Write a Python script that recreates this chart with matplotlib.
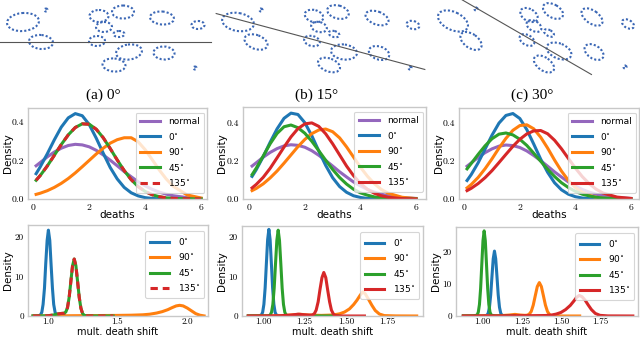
import matplotlib
matplotlib.use("Agg")
import matplotlib.pyplot as plt
from matplotlib.patches import Ellipse
import numpy as np

W, H = 640, 338

# ---------------- top row: ellipse layouts ----------------
ellipse_cx = [23, 46, 41, 99, 123, 104, 119, 97, 162, 198, 129, 164, 114, 195]
ellipse_cy = [22, 10, 42, 16, 12, 27, 34, 41, 18, 25, 52, 53, 65, 68]
ellipse_w = [32, 3, 24, 19, 22, 16, 11, 16, 24, 13, 26, 21, 23, 3]
ellipse_h = [18, 3, 14, 12, 13, 10, 6, 10, 13, 8, 15, 13, 13, 3]
ellipse_tilt = [-5, 0, 5, 0, 0, 0, 0, 0, 5, 0, -8, 3, 5, 0]
panel_dx = [0, 215, 430]
panel_dy = [0, 0, -1]
panel_angle = [0, 15, 30]
line_cx = [105, 320.5, 526.5]
line_cy = [42, 41.5, 37]
line_half = [106, 108, 75]
captions = ["(a) 0°", "(b) 15°", "(c) 30°"]
caption_x = [103, 317, 532]

# ---------------- middle row: density of deaths ----------------
deaths_x = [0.1, 0.25, 0.5, 0.75, 1.0, 1.25, 1.5, 1.75, 2.0, 2.25, 2.5, 2.75,
            3.0, 3.25, 3.5, 3.75, 4.0, 4.25, 4.5, 4.75, 5.0, 5.5, 6.0]
normal_density = [0.172, 0.189, 0.218, 0.243, 0.263, 0.277, 0.283, 0.280, 0.270, 0.252, 0.228, 0.201,
                  0.172, 0.142, 0.115, 0.089, 0.068, 0.050, 0.036, 0.025, 0.017, 0.007, 0.003]
deaths_a_0 = [0.131, 0.167, 0.234, 0.306, 0.372, 0.420, 0.442, 0.431, 0.385, 0.315, 0.237, 0.163,
              0.104, 0.060, 0.032, 0.016, 0.007, 0.003, 0.001, 0.0, 0.0, 0.0, 0.0]
deaths_a_90 = [0.024, 0.030, 0.043, 0.060, 0.081, 0.106, 0.135, 0.167, 0.200, 0.233, 0.263, 0.289,
               0.307, 0.317, 0.317, 0.296, 0.255, 0.204, 0.151, 0.104, 0.066, 0.021, 0.005]
deaths_a_45 = [0.097, 0.122, 0.171, 0.226, 0.282, 0.332, 0.370, 0.389, 0.387, 0.361, 0.317, 0.261,
               0.202, 0.147, 0.100, 0.064, 0.039, 0.022, 0.012, 0.006, 0.003, 0.001, 0.0]
deaths_a_135 = [0.097, 0.122, 0.171, 0.226, 0.282, 0.332, 0.370, 0.389, 0.387, 0.361, 0.317, 0.261,
                0.202, 0.147, 0.100, 0.064, 0.039, 0.022, 0.012, 0.006, 0.003, 0.001, 0.0]
deaths_b_0 = [0.118, 0.153, 0.221, 0.296, 0.366, 0.421, 0.448, 0.441, 0.398, 0.330, 0.251, 0.175,
              0.111, 0.065, 0.035, 0.017, 0.008, 0.003, 0.001, 0.0, 0.0, 0.0, 0.0]
deaths_b_90 = [0.044, 0.055, 0.079, 0.110, 0.146, 0.187, 0.230, 0.273, 0.311, 0.341, 0.360, 0.365,
               0.351, 0.319, 0.272, 0.219, 0.166, 0.119, 0.080, 0.050, 0.030, 0.009, 0.002]
deaths_b_45 = [0.127, 0.161, 0.224, 0.288, 0.342, 0.377, 0.386, 0.372, 0.343, 0.301, 0.252, 0.202,
               0.154, 0.112, 0.078, 0.051, 0.032, 0.020, 0.011, 0.006, 0.003, 0.001, 0.0]
deaths_b_135 = [0.058, 0.076, 0.113, 0.160, 0.215, 0.271, 0.324, 0.367, 0.392, 0.397, 0.379, 0.340,
                0.288, 0.230, 0.172, 0.122, 0.081, 0.051, 0.030, 0.017, 0.009, 0.002, 0.0]
deaths_c_0 = [0.097, 0.128, 0.190, 0.262, 0.335, 0.398, 0.438, 0.448, 0.422, 0.364, 0.288, 0.209,
              0.140, 0.085, 0.048, 0.025, 0.012, 0.005, 0.002, 0.001, 0.0, 0.0, 0.0]
deaths_c_90 = [0.058, 0.076, 0.113, 0.159, 0.211, 0.267, 0.318, 0.360, 0.385, 0.389, 0.368, 0.324,
               0.267, 0.204, 0.146, 0.097, 0.060, 0.035, 0.019, 0.009, 0.004, 0.001, 0.0]
deaths_c_45 = [0.158, 0.186, 0.234, 0.279, 0.316, 0.340, 0.346, 0.336, 0.313, 0.281, 0.240, 0.198,
               0.156, 0.118, 0.085, 0.060, 0.040, 0.025, 0.016, 0.009, 0.005, 0.001, 0.0]
deaths_c_135 = [0.044, 0.056, 0.081, 0.112, 0.149, 0.191, 0.234, 0.276, 0.313, 0.341, 0.357, 0.359,
                0.342, 0.308, 0.263, 0.212, 0.162, 0.117, 0.080, 0.051, 0.031, 0.010, 0.003]

# ---------------- bottom row: density of mult. death shift ----------------
shift_a_0_x = [0.895, 0.93, 0.948, 0.958, 0.967, 0.977, 0.986, 0.996, 1.005, 1.015, 1.024, 1.034,
               1.043, 1.053, 1.062, 1.08, 1.12]
shift_a_0_y = [0, 0.01, 0.24, 0.95, 2.93, 7.05, 13.2, 19.1, 21.7, 19.1, 13.2, 7.05, 2.93, 0.95, 0.24, 0.02, 0]
shift_a_90_x = [0.895, 1.1, 1.3, 1.5, 1.6, 1.68, 1.73, 1.78, 1.82, 1.86, 1.89, 1.92, 1.945, 1.97,
                2.0, 2.03, 2.06, 2.09, 2.12]
shift_a_90_y = [0.0, 0.05, 0.1, 0.15, 0.2, 0.3, 0.45, 0.75, 1.1, 1.6, 2.1, 2.55, 2.7, 2.55, 2.0, 1.3, 0.6, 0.2, 0.02]
shift_a_45_x = [0.895, 1.0, 1.04, 1.07, 1.10, 1.118, 1.130, 1.142, 1.154, 1.166, 1.178, 1.19, 1.202,
                1.214, 1.226, 1.238, 1.250, 1.262, 1.28, 1.35, 1.47]
shift_a_45_y = [0, 0.05, 0.25, 0.5, 0.65, 0.7, 1.03, 2.14, 4.78, 8.8, 12.7, 14.4, 12.7, 8.74, 4.68,
                1.94, 0.63, 0.16, 0.03, 0, 0]
shift_a_135_x = list(shift_a_45_x)
shift_a_135_y = list(shift_a_45_y)

shift_b_0_x = [0.91, 0.97, 0.989, 0.9965, 1.004, 1.0115, 1.019, 1.0265, 1.034, 1.0415, 1.049, 1.0565,
               1.064, 1.0715, 1.079, 1.10, 1.15]
shift_b_0_y = [0, 0.02, 0.24, 0.96, 2.96, 7.12, 13.3, 19.3, 21.9, 19.3, 13.3, 7.12, 2.96, 0.96, 0.24, 0.02, 0]
shift_b_90_x = [0.91, 1.1, 1.18, 1.22, 1.27, 1.35, 1.42, 1.46, 1.49, 1.52, 1.545, 1.565, 1.585, 1.60,
                1.615, 1.635, 1.655, 1.675, 1.70, 1.73, 1.80, 1.925]
shift_b_90_y = [0, 0.05, 0.3, 0.45, 0.25, 0.15, 0.25, 0.55, 1.0, 1.8, 2.9, 4.0, 5.3, 6.1, 5.6, 4.2,
                2.7, 1.4, 0.5, 0.1, 0.02, 0]
shift_b_45_x = [0.91, 1.03, 1.042, 1.050, 1.058, 1.066, 1.074, 1.082, 1.09, 1.098, 1.106, 1.114,
                1.122, 1.130, 1.138, 1.16, 1.45]
shift_b_45_y = [0, 0.02, 0.24, 0.95, 2.93, 7.05, 13.2, 19.1, 21.7, 19.1, 13.2, 7.05, 2.93, 0.95, 0.24, 0.02, 0]
shift_b_135_x = [0.91, 1.10, 1.17, 1.21, 1.25, 1.28, 1.296, 1.308, 1.319, 1.331, 1.342, 1.354, 1.365,
                 1.377, 1.388, 1.400, 1.411, 1.423, 1.434, 1.46, 1.52, 1.61]
shift_b_135_y = [0, 0.05, 0.25, 0.45, 0.3, 0.22, 0.27, 0.58, 1.49, 3.58, 6.68, 9.7, 11.0, 9.7, 6.68,
                 3.58, 1.49, 0.48, 0.12, 0.01, 0, 0]

shift_c_0_x = [0.876, 1.0, 1.027, 1.035, 1.043, 1.051, 1.059, 1.067, 1.075, 1.083, 1.091, 1.099,
               1.107, 1.115, 1.123, 1.15, 1.3]
shift_c_0_y = [0, 0.02, 0.22, 0.89, 2.73, 6.57, 12.3, 17.8, 20.2, 17.8, 12.3, 6.57, 2.73, 0.89, 0.22, 0.02, 0]
shift_c_90_x = [0.876, 1.1, 1.17, 1.206, 1.24, 1.27, 1.284, 1.297, 1.310, 1.323, 1.336, 1.349, 1.362,
                1.375, 1.388, 1.401, 1.414, 1.427, 1.440, 1.47, 1.55, 1.62]
shift_c_90_y = [0, 0.05, 0.3, 0.5, 0.3, 0.2, 0.25, 0.56, 1.40, 3.38, 6.31, 9.17, 10.4, 9.17, 6.31,
                3.38, 1.40, 0.46, 0.11, 0.01, 0, 0]
shift_c_45_x = [0.876, 0.94, 0.964, 0.9715, 0.979, 0.9865, 0.994, 1.0015, 1.009, 1.0165, 1.024,
                1.0315, 1.039, 1.0465, 1.054, 1.08, 1.2]
shift_c_45_y = [0, 0.02, 0.29, 1.17, 3.58, 8.61, 16.1, 23.4, 26.5, 23.4, 16.1, 8.61, 3.58, 1.17, 0.29, 0.02, 0]
shift_c_135_x = [0.876, 1.1, 1.2, 1.3, 1.40, 1.44, 1.47, 1.50, 1.53, 1.56, 1.585, 1.60, 1.617, 1.635,
                 1.655, 1.675, 1.695, 1.72, 1.75, 1.80, 1.96]
shift_c_135_y = [0, 0.05, 0.1, 0.1, 0.15, 0.3, 0.6, 1.1, 2.0, 3.3, 4.8, 5.8, 6.4, 6.0, 4.9, 3.4,
                 2.0, 0.8, 0.2, 0.03, 0]

angle_labels = ["0$^{\\circ}$", "90$^{\\circ}$", "45$^{\\circ}$", "135$^{\\circ}$"]
colors = {"normal": "#9467bd", "0": "#1f77b4", "90": "#ff7f0e", "45": "#2ca02c", "135": "#d62728"}

# ---------------- figure ----------------
fig = plt.figure(figsize=(W / 100, H / 100), dpi=100)


def px_axes(l, t, r, b):
    return fig.add_axes([l / W, 1 - b / H, (r - l) / W, (b - t) / H])


# top illustrations
axt = px_axes(0, 0, W, 105)
axt.set_xlim(0, W)
axt.set_ylim(105, 0)
axt.axis("off")
for p in range(3):
    for cx, cy, w, h, tl in zip(ellipse_cx, ellipse_cy, ellipse_w, ellipse_h, ellipse_tilt):
        e = Ellipse((cx + panel_dx[p], cy + panel_dy[p]), w, h, angle=tl + panel_angle[p],
                    fill=False, edgecolor="#3b67b5", lw=1.5, linestyle=(0, (1, 1.0)))
        axt.add_patch(e)
    th = np.deg2rad(panel_angle[p])
    dxl, dyl = line_half[p] * np.cos(th), line_half[p] * np.sin(th)
    axt.plot([line_cx[p] - dxl, line_cx[p] + dxl], [line_cy[p] - dyl, line_cy[p] + dyl],
             color="#555555", lw=0.8, clip_on=True)
    axt.text(caption_x[p], 95, captions[p], ha="center", va="center", fontsize=11,
             family="Liberation Serif")

spine_color = "#c8c8c8"


def style_axes(ax, xticks, xlabels, yticks, ylabels, xlabel, xlab_y, ylab_x, tick_fs, xpad, lab_fs):
    ax.set_xticks(xticks, xlabels, fontfamily="cmr10", fontsize=tick_fs)
    ax.set_yticks(yticks, ylabels, fontfamily="cmr10", fontsize=tick_fs)
    ax.tick_params(length=0, pad=3)
    ax.tick_params(axis="x", pad=xpad)
    for s in ax.spines.values():
        s.set_color(spine_color)
        s.set_linewidth(1.0)
    ax.set_xlabel(xlabel, fontsize=lab_fs)
    ax.set_ylabel("Density", fontsize=7.5)
    ax.xaxis.set_label_coords(0.5, xlab_y)
    ax.yaxis.set_label_coords(ylab_x, 0.5)


def add_legend(ax, x_anchor, y_anchor):
    leg = ax.legend(loc="upper right", bbox_to_anchor=(x_anchor, y_anchor), borderaxespad=0,
                    fontsize=6.5, handlelength=2.2, handletextpad=0.9, labelspacing=0.5,
                    framealpha=0.8, edgecolor="#cccccc", fancybox=True, borderpad=0.5)
    leg.get_frame().set_linewidth(0.8)


middle_boxes = [(28, 108, 207, 199), (243, 107, 426, 199), (459, 108, 639, 199)]
middle_xlims = [(-0.19, 6.21), (-0.227, 6.36), (-0.19, 6.29)]
middle_ylims = [(0, 0.471), (0, 0.48), (0, 0.477)]
middle_series = [
    [deaths_a_0, deaths_a_90, deaths_a_45, deaths_a_135],
    [deaths_b_0, deaths_b_90, deaths_b_45, deaths_b_135],
    [deaths_c_0, deaths_c_90, deaths_c_45, deaths_c_135],
]
bottom_boxes = [(28, 225, 208, 316), (242, 226, 423, 316), (456, 227, 638, 316)]
bottom_xlims = [(0.859, 2.148), (0.872, 1.963), (0.829, 1.993)]
bottom_ylims = [(0, 23.0), (0, 22.75), (0, 27.7)]
bottom_series = [
    [(shift_a_0_x, shift_a_0_y), (shift_a_90_x, shift_a_90_y), (shift_a_45_x, shift_a_45_y), (shift_a_135_x, shift_a_135_y)],
    [(shift_b_0_x, shift_b_0_y), (shift_b_90_x, shift_b_90_y), (shift_b_45_x, shift_b_45_y), (shift_b_135_x, shift_b_135_y)],
    [(shift_c_0_x, shift_c_0_y), (shift_c_90_x, shift_c_90_y), (shift_c_45_x, shift_c_45_y), (shift_c_135_x, shift_c_135_y)],
]
bottom_xticks = [[1.0, 1.5, 2.0], [1.0, 1.25, 1.5, 1.75], [1.0, 1.25, 1.5, 1.75]]
bottom_xticklabels = [["1.0", "1.5", "2.0"], ["1.00", "1.25", "1.50", "1.75"], ["1.00", "1.25", "1.50", "1.75"]]
keys = ["0", "90", "45", "135"]
LW = 2.2

for p in range(3):
    ax = px_axes(*middle_boxes[p])
    ax.plot(deaths_x, normal_density, color=colors["normal"], lw=LW, label="normal")
    for k, lab, ys in zip(keys, angle_labels, middle_series[p]):
        ls = (0, (2.4, 1.6)) if (p == 0 and k == "135") else "-"
        ax.plot(deaths_x, ys, color=colors[k], lw=LW, label=lab, linestyle=ls)
    ax.set_xlim(*middle_xlims[p])
    ax.set_ylim(*middle_ylims[p])
    style_axes(ax, [0, 2, 4, 6], ["0", "2", "4", "6"], [0, 0.2, 0.4], ["0.0", "0.2", "0.4"],
               "deaths", -0.12, -0.085, 7, 3, 7.5)
    add_legend(ax, 0.985, 0.95)

    axb = px_axes(*bottom_boxes[p])
    for k, lab, (xs, ys) in zip(keys, angle_labels, bottom_series[p]):
        ls = (0, (2.4, 1.6)) if (p == 0 and k == "135") else "-"
        axb.plot(xs, ys, color=colors[k], lw=LW, label=lab, linestyle=ls)
    axb.set_xlim(*bottom_xlims[p])
    axb.set_ylim(*bottom_ylims[p])
    style_axes(axb, bottom_xticks[p], bottom_xticklabels[p], [0, 10, 20], ["0", "10", "20"],
               "mult. death shift", -0.124, -0.085, 6.6, 1.5, 7)
    add_legend(axb, 0.98, 0.93)

fig.savefig("out.png", dpi=100)
